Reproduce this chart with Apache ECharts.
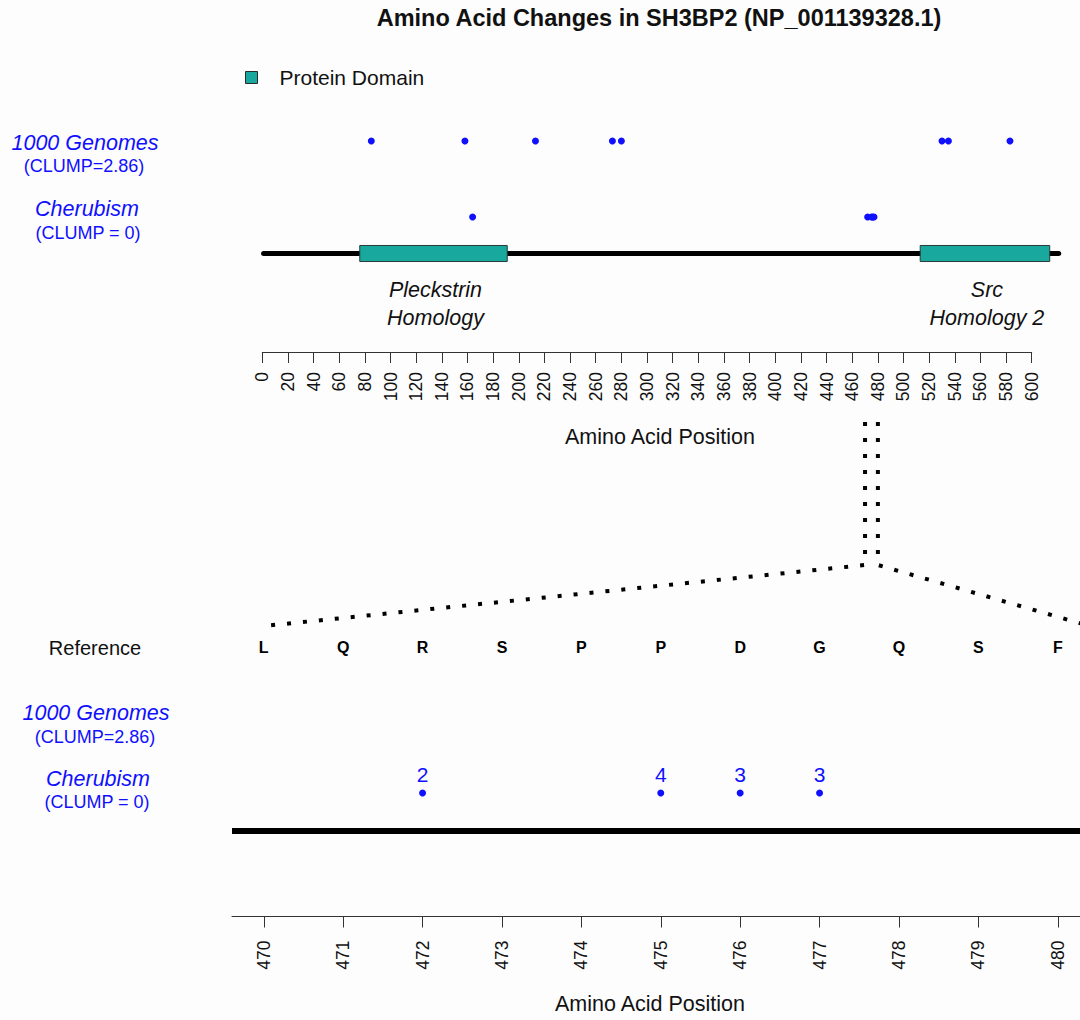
<!DOCTYPE html>
<html><head><meta charset="utf-8">
<script src="https://cdn.jsdelivr.net/npm/echarts@6/dist/echarts.min.js"></script>
<style>html,body{margin:0;padding:0;background:#fdfdfd}#c{width:1080px;height:1020px}</style>
</head><body><div id="c"></div>
<script>
// ---------- data ----------
const proteinLength = 621;
const domainNames = ['Pleckstrin\nHomology', 'Src\nHomology 2'];
const domainStarts = [76, 513];
const domainEnds = [191, 614];
const genomesPositions = [85, 158, 213, 273, 280, 530, 535, 583];
const cherubismPositions = [164, 472, 475, 476, 477];
const topTickLabels = [0,20,40,60,80,100,120,140,160,180,200,220,240,260,280,300,320,340,360,380,400,420,440,460,480,500,520,540,560,580,600];
const zoomTickLabels = [470,471,472,473,474,475,476,477,478,479,480];
const referenceResidues = ['L','Q','R','S','P','P','D','G','Q','S','F'];
const zoomCherubismPositions = [472, 475, 476, 477];
const zoomCherubismCounts = [2, 4, 3, 3];
const zoomGenomesPositions = [];
const zoomStart = 470, zoomEnd = 480;

// ---------- style ----------
const BLUE = '#1010ff';
const TEAL = '#19a89d';
const FONT = '"Liberation Sans", Arial, Helvetica, sans-serif';
// track rows (layout)
const ROW_TOP_G = 3.08, ROW_TOP_C = 1.0, ROW_TOP_BB = 0;
const ROW_BOT_REF = 4.84, ROW_BOT_C = 1.0, ROW_BOT_BB = 0;
const DOMAIN_HALF = 0.22;

const chart = echarts.init(document.getElementById('c'), null, {renderer: 'svg'});

function txt(id, text, x, y, font, fill) {
  return {type: 'text', id: id, x: x, y: y, z: 10,
    style: {text: text, font: font, fill: fill, textAlign: 'center', textVerticalAlign: 'middle', align: 'center', verticalAlign: 'middle'}};
}

const option = {
  backgroundColor: '#fdfdfd',
  animation: false,
  legend: {
    left: 245, top: 67, padding: 0, itemWidth: 12, itemHeight: 12, selectedMode: false,
    data: [{name: 'Protein Domain', icon: 'rect', itemStyle: {color: TEAL, borderColor: '#2a2a2a', borderWidth: 1, opacity: 1}}],
    textStyle: {fontSize: 21, fontFamily: FONT, color: '#111', padding: [0, 0, 0, 17]}
  },
  grid: [
    {left: 231, width: 849, top: 125.75, height: 146},
    {left: 262.3, width: 769.4, top: 351, height: 1},
    {left: 232, width: 848, top: 622, height: 294.5}
  ],
  xAxis: [
    {gridIndex: 0, type: 'value', min: -24.4, max: 637.6, show: false},
    {gridIndex: 1, type: 'value', min: 0, max: 600, position: 'bottom',
      axisLine: {show: true, onZero: false, lineStyle: {color: '#333', width: 1}},
      axisTick: {show: true, length: 11, lineStyle: {color: '#333'}, customValues: topTickLabels},
      axisLabel: {rotate: 90, margin: 20, fontSize: 17.5, fontFamily: FONT, color: '#111', customValues: topTickLabels},
      splitLine: {show: false}},
    {gridIndex: 2, type: 'value', min: 469.6, max: 480.28, position: 'bottom',
      axisLine: {show: true, onZero: false, lineStyle: {color: '#333', width: 1}},
      axisTick: {show: true, length: 11, lineStyle: {color: '#333'}, customValues: zoomTickLabels},
      axisLabel: {rotate: 90, margin: 24, fontSize: 17.5, fontFamily: FONT, color: '#111', customValues: zoomTickLabels},
      splitLine: {show: false}}
  ],
  yAxis: [
    {gridIndex: 0, type: 'value', min: -0.5, max: 3.5, show: false},
    {gridIndex: 1, type: 'value', min: 0, max: 1, show: false},
    {gridIndex: 2, type: 'value', min: -2.25, max: 5.5, show: false}
  ],
  series: [
    // top backbone
    {type: 'line', xAxisIndex: 0, yAxisIndex: 0, data: [[1, ROW_TOP_BB], [proteinLength, ROW_TOP_BB]],
      symbol: 'none', lineStyle: {color: '#000', width: 5, cap: 'round'}, z: 2, silent: true},
    // domains
    {type: 'custom', name: 'Protein Domain', xAxisIndex: 0, yAxisIndex: 0, z: 3,
      itemStyle: {color: TEAL},
      data: domainStarts.map((s, i) => [s, domainEnds[i], i]),
      renderItem: function (params, api) {
        const p0 = api.coord([api.value(0), ROW_TOP_BB + DOMAIN_HALF]);
        const p1 = api.coord([api.value(1), ROW_TOP_BB - DOMAIN_HALF]);
        const name = domainNames[api.value(2)];
        return {type: 'group', children: [
          {type: 'rect', shape: {x: p0[0], y: p0[1], width: p1[0] - p0[0], height: p1[1] - p0[1]},
            style: {fill: TEAL, stroke: '#2a3a38', lineWidth: 1}},
          {type: 'text', style: {text: name, x: (p0[0] + p1[0]) / 2 + 2, y: p1[1] + 14,
            font: 'italic 21.5px ' + FONT, fill: '#111', align: 'center', verticalAlign: 'top', lineHeight: 28}}
        ]};
      }},
    // top points
    {type: 'scatter', xAxisIndex: 0, yAxisIndex: 0, symbolSize: 7, itemStyle: {color: BLUE, opacity: 1}, z: 4,
      data: genomesPositions.map(p => [p, ROW_TOP_G])},
    {type: 'scatter', xAxisIndex: 0, yAxisIndex: 0, symbolSize: 7, itemStyle: {color: BLUE, opacity: 1}, z: 4,
      data: cherubismPositions.map(p => [p, ROW_TOP_C])},
    // bottom backbone
    {type: 'line', xAxisIndex: 2, yAxisIndex: 2, data: [[469.6, ROW_BOT_BB], [480.28, ROW_BOT_BB]],
      symbol: 'none', lineStyle: {color: '#000', width: 6}, z: 2, silent: true},
    // reference residues
    {type: 'scatter', xAxisIndex: 2, yAxisIndex: 2, symbolSize: 0, z: 4, itemStyle: {opacity: 1},
      data: zoomTickLabels.map((p, i) => ({value: [p, ROW_BOT_REF], label: {formatter: referenceResidues[i]}})),
      label: {show: true, position: 'inside', fontSize: 16, fontWeight: 'bold', fontFamily: FONT, color: '#000', opacity: 1}},
    // bottom genome points (none in zoomed region)
    {type: 'scatter', xAxisIndex: 2, yAxisIndex: 2, symbolSize: 7, itemStyle: {color: BLUE, opacity: 1},
      data: zoomGenomesPositions.map(p => [p, 2.9])},
    // bottom cherubism points with counts
    {type: 'scatter', xAxisIndex: 2, yAxisIndex: 2, symbolSize: 7, itemStyle: {color: BLUE, opacity: 1}, z: 4,
      data: zoomCherubismPositions.map((p, i) => ({value: [p, ROW_BOT_C], label: {formatter: String(zoomCherubismCounts[i])}})),
      label: {show: true, position: 'top', distance: 5, fontSize: 21, fontFamily: FONT, color: BLUE, opacity: 1}}
  ],
  graphic: [
    txt('title', 'Amino Acid Changes in SH3BP2 (NP_001139328.1)', 659, 18, 'bold 23.5px ' + FONT, '#111'),
    txt('tg', '1000 Genomes', 85, 143, 'italic 21.5px ' + FONT, BLUE),
    txt('tgc', '(CLUMP=2.86)', 84, 166, '18px ' + FONT, BLUE),
    txt('tc', 'Cherubism', 87, 209, 'italic 21.5px ' + FONT, BLUE),
    txt('tcc', '(CLUMP = 0)', 88, 233, '18px ' + FONT, BLUE),
    txt('xn1', 'Amino Acid Position', 660, 437, '21.5px ' + FONT, '#111'),
    txt('ref', 'Reference', 95, 648, '20px ' + FONT, '#111'),
    txt('bg', '1000 Genomes', 96, 713, 'italic 21.5px ' + FONT, BLUE),
    txt('bgc', '(CLUMP=2.86)', 95, 737, '18px ' + FONT, BLUE),
    txt('bc', 'Cherubism', 98, 779, 'italic 21.5px ' + FONT, BLUE),
    txt('bcc', '(CLUMP = 0)', 97, 802, '18px ' + FONT, BLUE),
    txt('xn2', 'Amino Acid Position', 650, 1004, '21.5px ' + FONT, '#111')
  ]
};
chart.setOption(option);

// zoom connectors: from top-scale positions to bottom panel
const VTOP = 422, VBOT = 565, DIAG_END = 626;
const xl = chart.convertToPixel({xAxisIndex: 0}, zoomStart);
const xr = chart.convertToPixel({xAxisIndex: 0}, zoomEnd);
const bl = chart.convertToPixel({xAxisIndex: 2}, zoomStart);
const br = chart.convertToPixel({xAxisIndex: 2}, 480.4);
const dash = {stroke: '#000', lineWidth: 4, lineDash: [4, 12], fill: null, lineCap: 'butt'};
chart.setOption({graphic: [
  {type: 'polyline', id: 'connL', z: 5, shape: {points: [[xl, VTOP], [xl, VBOT], [bl, DIAG_END]]}, style: dash},
  {type: 'polyline', id: 'connR', z: 5, shape: {points: [[xr, VTOP], [xr, VBOT], [br, DIAG_END]]}, style: dash}
]});
</script>
</body></html>
